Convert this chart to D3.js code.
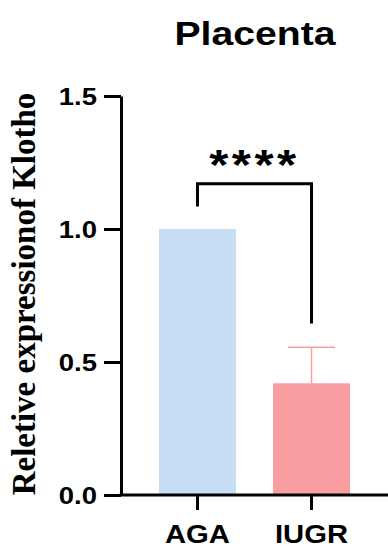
<!DOCTYPE html>
<html>
<head>
<meta charset="utf-8">
<script src="https://cdn.jsdelivr.net/npm/d3@7"></script>
<style>
  body { margin: 0; background: #fff; }
  svg { display: block; }
</style>
</head>
<body>
<svg id="chart"></svg>
<script>
// data
let groups = ["AGA", "IUGR"];
let means = [1.0, 0.42];
let sems = [0, 0.135];
let barColors = ["#c6ddf4", "#fa9ea1"];
let yTicks = [0.0, 0.5, 1.0, 1.5];
let sigLabel = "****";

let w = 388, h = 547;
let margin = { top: 96, right: 0, bottom: 52, left: 121 };
// the original figure is a bit wider than tall, so text is stretched sideways
let stretch = 1.17;

let svg = d3.select("#chart")
    .attr("width", w)
    .attr("height", h)

let xScale = d3.scaleBand()
    .domain(groups)
    .range([margin.left, w])
    .paddingInner(0.325)
    .paddingOuter(0.333)

let yScale = d3.scaleLinear()
    .domain([0, 1.5])
    .range([h - margin.bottom, margin.top])

// bars
svg.selectAll("rect.bar")
    .data(groups)
    .enter()
    .append("rect")
    .attr("class", "bar")
    .attr("x", function (d) { return xScale(d); })
    .attr("width", xScale.bandwidth())
    .attr("y", function (d, i) { return yScale(means[i]); })
    .attr("height", function (d, i) { return yScale(0) - yScale(means[i]); })
    .style("fill", function (d, i) { return barColors[i]; })

// error bars (only upper half shown)
groups.forEach(function (g, i) {
    if (!sems[i]) return;
    let cx = xScale(g) + xScale.bandwidth() / 2;
    let top = yScale(means[i] + sems[i]);
    svg.append("line")
        .attr("x1", cx).attr("x2", cx)
        .attr("y1", yScale(means[i])).attr("y2", top)
        .style("stroke", barColors[i]).style("stroke-width", 1.5)
    svg.append("line")
        .attr("x1", cx - 23.5).attr("x2", cx + 23.5)
        .attr("y1", top).attr("y2", top)
        .style("stroke", barColors[i]).style("stroke-width", 1.5)
})

// y axis
let yAxis = d3.axisLeft(yScale)
    .tickValues(yTicks)
    .tickFormat(d3.format(".1f"))
    .tickSize(17)
    .tickSizeOuter(0)

let gy = svg.append("g")
    .attr("transform", "translate(" + margin.left + ",0)")
    .call(yAxis)
gy.select(".domain").style("stroke", "#000").style("stroke-width", 3)
gy.selectAll(".tick line").style("stroke", "#000").style("stroke-width", 3)
gy.selectAll(".tick text")
    .attr("x", 0)
    .attr("transform", "translate(-24,0) scale(" + stretch + ",1)")
    .style("font-family", "'Liberation Sans', Arial, sans-serif")
    .style("font-weight", "bold")
    .style("font-size", "23.5px")
    .attr("dy", "0.36em")
    .style("fill", "#000")

// x axis
let xAxis = d3.axisBottom(xScale)
    .tickSize(15)
    .tickSizeOuter(0)

let gx = svg.append("g")
    .attr("transform", "translate(0," + yScale(0) + ")")
    .call(xAxis)
gx.select(".domain").attr("d", "M" + (margin.left - 1.5) + ",0H" + w).style("stroke", "#000").style("stroke-width", 3)
gx.selectAll(".tick line").style("stroke", "#000").style("stroke-width", 3)
gx.selectAll(".tick text")
    .attr("y", 0)
    .attr("transform", "translate(0,30) scale(" + stretch + ",1)")
    .style("font-family", "'Liberation Sans', Arial, sans-serif")
    .style("font-weight", "bold")
    .style("font-size", "25px")
    .style("fill", "#000")

// significance bracket
let xa = xScale("AGA") + xScale.bandwidth() / 2;
let xb = xScale("IUGR") + xScale.bandwidth() / 2;
let yBr = yScale(1.17);
svg.append("path")
    .attr("d", "M" + xa + "," + yScale(1.085) + "V" + yBr + "H" + xb + "V" + yScale(0.645))
    .style("fill", "none")
    .style("stroke", "#000")
    .style("stroke-width", 3)

svg.append("text")
    .attr("transform", "translate(" + ((xa + xb) / 2) + "," + (yBr - 5) + ") scale(" + stretch + ",1)")
    .attr("text-anchor", "middle")
    .style("font-family", "'Liberation Sans', Arial, sans-serif")
    .style("font-weight", "bold")
    .style("font-size", "42px")
    .style("letter-spacing", "3px")
    .text(sigLabel)

// title
svg.append("text")
    .attr("transform", "translate(255,45) scale(" + stretch + ",1)")
    .attr("text-anchor", "middle")
    .style("font-family", "'Liberation Sans', Arial, sans-serif")
    .style("font-weight", "bold")
    .style("font-size", "33.5px")
    .text("Placenta")

// y label
svg.append("text")
    .attr("transform", "translate(35,294) rotate(-90)")
    .attr("text-anchor", "middle")
    .style("font-family", "'Liberation Serif', 'Times New Roman', serif")
    .style("font-weight", "bold")
    .style("font-size", "33px")
    .text("Reletive expressionof Klotho")
</script>
</body>
</html>
